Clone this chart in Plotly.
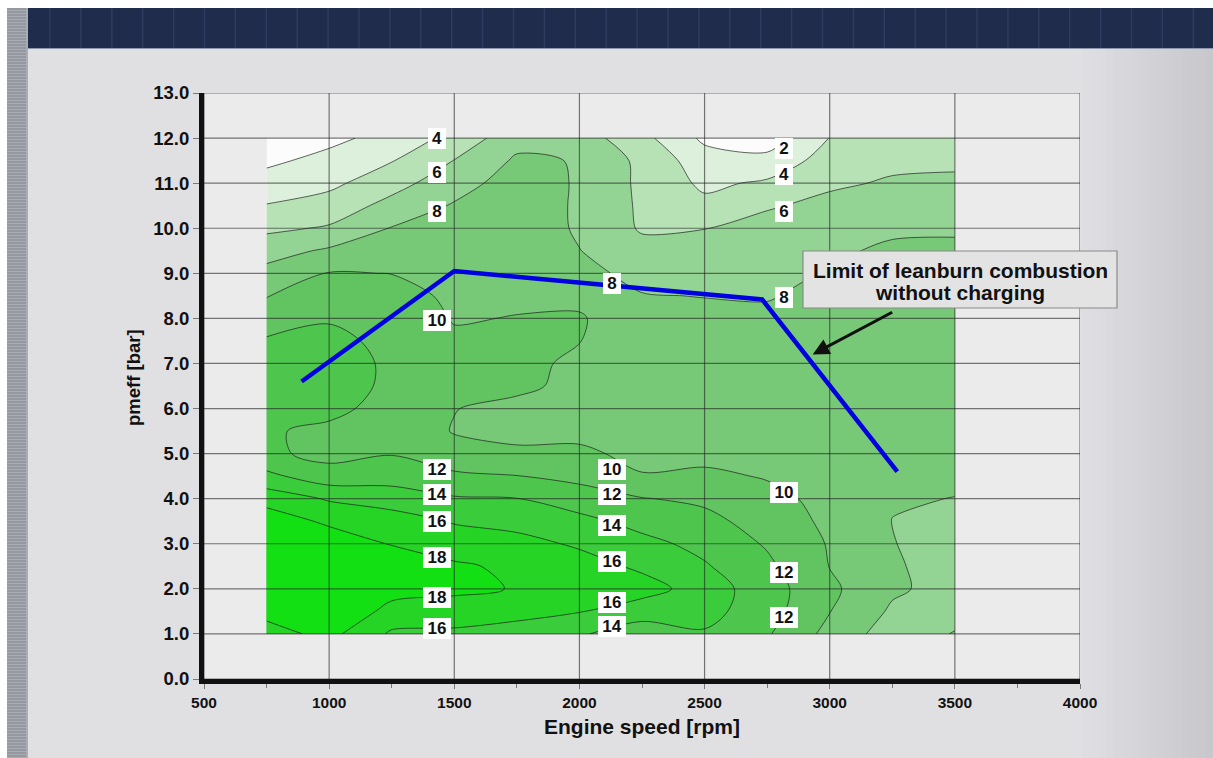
import numpy as np
import plotly.graph_objects as go

FONT = "Liberation Sans, Arial, sans-serif"

# ---- map grid --------------------------------------------------------------
speed_rpm = [750, 1000, 1250, 1500, 1750, 2000, 2250, 2500, 2750, 3000, 3250, 3500]
pmeff_bar = [1.0, 1.5, 2.0, 2.5, 3.0, 3.5, 4.0, 4.5, 5.0, 5.5, 6.0, 6.5,
             7.0, 7.5, 8.0, 8.5, 9.0, 9.5, 10.0, 10.5, 11.0, 11.5, 12.0]

# map values per engine-speed column, listed from 1.0 bar up to 12.0 bar
z_750 = [17.2, 18.6, 20.3, 20.8, 20.5, 19.2, 17.2, 14.5, 12.4, 12.2, 12.8, 13.0,
         12.8, 12.2, 11.1, 9.9, 8.6, 7.2, 5.6, 4.1, 2.8, 1.6, 0.8]
z_1000 = [18.6, 20.0, 21.0, 20.6, 19.3, 17.6, 15.8, 12.8, 11.4, 11.6, 12.5, 13.2,
          13.1, 12.6, 11.8, 11.0, 10.1, 8.3, 6.2, 4.9, 3.5, 2.6, 1.5]
z_1250 = [15.7, 17.3, 18.8, 19.0, 17.9, 17.0, 15.0, 13.2, 11.9, 11.2, 11.3, 11.5,
          11.6, 11.4, 11.0, 10.6, 9.97, 9.3, 8.1, 6.6, 5.3, 3.9, 2.7]
z_1500 = [15.6, 17.1, 18.4, 18.3, 17.0, 15.85, 14.2, 12.4, 10.6, 9.9, 10.05, 10.5,
          10.6, 10.25, 9.9, 9.7, 9.6, 9.4, 9.0, 8.2, 7.1, 6.05, 4.6]
z_1750 = [15.2, 16.6, 17.9, 17.6, 16.7, 15.3, 14.05, 12.05, 10.5, 9.2, 9.5, 10.4,
          10.7, 10.6, 10.05, 9.75, 9.6, 9.6, 9.5, 9.3, 9.0, 8.3, 7.3]
z_2000 = [14.2, 16.1, 17.2, 16.9, 15.7, 14.6, 12.9, 11.5, 10.5, 9.3, 9.0, 9.5,
          9.5, 10.05, 10.2, 9.5, 8.6, 8.05, 7.7, 7.7, 7.8, 7.9, 7.0]
z_2250 = [13.0, 14.8, 16.9, 15.6, 14.6, 13.3, 12.1, 10.15, 9.3, 9.3, 9.2, 9.2,
          9.1, 8.9, 8.6, 8.1, 7.4, 6.6, 5.8, 5.7, 5.6, 5.5, 4.6]
z_2500 = [13.8, 14.7, 15.0, 14.2, 13.4, 12.6, 11.6, 10.4, 9.4, 9.1, 9.0, 8.9,
          8.9, 8.8, 8.5, 7.95, 7.5, 6.9, 5.95, 4.5, 3.6, 2.9, 1.6]
z_2750 = [12.2, 12.8, 12.9, 12.4, 11.8, 11.1, 10.6, 9.85, 9.3, 9.1, 9.0, 8.9,
          8.8, 8.6, 8.3, 7.9, 7.6, 7.2, 6.7, 5.8, 4.3, 2.6, 1.0]
z_3000 = [9.4, 10.05, 10.4, 9.95, 9.85, 9.6, 9.4, 9.25, 9.1, 9.0, 8.9, 8.85,
          8.8, 8.7, 8.6, 8.4, 8.1, 7.7, 7.2, 6.5, 5.7, 4.9, 4.05]
z_3250 = [7.0, 7.72, 8.3, 8.2, 8.05, 7.98, 8.1, 8.2, 8.3, 8.4, 8.5, 8.5,
          8.6, 8.7, 8.8, 8.8, 8.7, 8.3, 7.7, 7.0, 6.2, 5.6, 4.8]
z_3500 = [8.1, 7.4, 7.3, 7.3, 7.4, 7.6, 7.98, 8.2, 8.3, 8.35, 8.4, 8.5,
          8.6, 8.65, 8.7, 8.7, 8.6, 8.3, 7.8, 7.1, 6.3, 5.7, 5.0]

level_start, level_end, level_step = 2, 18, 2

# inline contour labels: speed, pmeff, level
label_speed = [1432, 1432, 1432, 1432, 1432, 1432, 1432, 1432, 1432, 1432,
               2816, 2816, 2816, 2132, 2816,
               2132, 2132, 2132, 2132, 2132, 2132,
               2816, 2816, 2816]
label_pmeff = [11.98, 11.24, 10.38, 7.96, 4.64, 4.09, 3.49, 2.69, 1.80, 1.13,
               11.76, 11.20, 10.38, 8.78, 8.47,
               4.64, 4.09, 3.40, 2.60, 1.69, 1.16,
               4.13, 2.36, 1.36]
label_level = [4, 6, 8, 10, 12, 14, 16, 18, 18, 16,
               2, 4, 6, 8, 8,
               10, 12, 14, 16, 16, 14,
               10, 12, 12]

# leanburn limit line
limit_speed = [890, 1500, 2730, 3270]
limit_pmeff = [6.6, 9.05, 8.42, 4.6]

# axes
x_ticks = [500, 1000, 1500, 2000, 2500, 3000, 3500, 4000]
x_minor = [750, 1250, 1750, 2250, 2750, 3250, 3750]
y_ticks = list(range(0, 14))

band_colors = ["#fcfcfc", "#dcf0dc", "#b6e2b6", "#93d393", "#77c877",
               "#61c461", "#4ec64e", "#3bcc3b", "#26d426", "#12e012"]

# ---- figure ----------------------------------------------------------------
z = np.column_stack([z_750, z_1000, z_1250, z_1500, z_1750, z_2000,
                     z_2250, z_2500, z_2750, z_3000, z_3250, z_3500])

n = len(band_colors)
colorscale = [[i / (n - 1), c] for i, c in enumerate(band_colors)]

fig = go.Figure()
fig.add_trace(go.Contour(
    x=speed_rpm, y=pmeff_bar, z=z,
    autocontour=False,
    contours=dict(start=level_start, end=level_end, size=level_step,
                  coloring="fill", showlabels=False),
    colorscale=colorscale, showscale=False,
    line=dict(color="rgba(25,25,25,0.75)", width=0.9, smoothing=0.9),
    hoverinfo="skip",
))

# grid drawn over the filled map
gx, gy = [], []
for v in x_ticks:
    gx += [v, v, None]
    gy += [0, 13, None]
for v in y_ticks:
    gx += [500, 4000, None]
    gy += [v, v, None]
fig.add_trace(go.Scatter(x=gx, y=gy, mode="lines", cliponaxis=False,
                         line=dict(color="rgba(35,35,35,0.6)", width=1.2),
                         hoverinfo="skip", showlegend=False))

fig.add_trace(go.Scatter(x=limit_speed, y=limit_pmeff, mode="lines",
                         line=dict(color="#0000e0", width=4.5),
                         hoverinfo="skip", showlegend=False))

for sx, sy, lv in zip(label_speed, label_pmeff, label_level):
    w = 18 if lv < 10 else 28
    fig.add_annotation(x=sx, y=sy, text=f"<b>{lv}</b>", showarrow=False,
                       xanchor="center", yanchor="middle",
                       width=w, height=21, align="center", valign="middle",
                       bgcolor="white", borderwidth=0, borderpad=0,
                       font=dict(family=FONT, size=17, color="#111"))

# ---- page decoration (pixel helpers -> paper coordinates) ------------------
L, R, T, B = 204, 1080, 93, 679


def px(xp):
    return (xp - L) / (R - L)


def py(yp):
    return (B - yp) / (B - T)


shapes = []
# white top edge and left edge
shapes.append(dict(type="rect", xref="paper", yref="paper", x0=px(0), x1=px(1213),
                   y0=py(8), y1=py(0), fillcolor="white", line=dict(width=0), layer="below"))
shapes.append(dict(type="rect", xref="paper", yref="paper", x0=px(0), x1=px(7),
                   y0=py(758), y1=py(0), fillcolor="white", line=dict(width=0), layer="below"))
# right-hand shading
steps = 16
for i in range(steps):
    x0 = 1082 + i * (131 / steps)
    x1 = 1082 + (i + 1) * (131 / steps)
    t = (i + 1) / steps
    c = int(round(224 - 24 * t))
    shapes.append(dict(type="rect", xref="paper", yref="paper", x0=px(x0), x1=px(x1 + 0.5),
                       y0=py(758), y1=py(48), fillcolor=f"rgb({c},{c},{c + 4})",
                       line=dict(width=0), layer="below"))
# navy banner
shapes.append(dict(type="rect", xref="paper", yref="paper", x0=px(28), x1=px(1213),
                   y0=py(48), y1=py(8), fillcolor="#1f2c4b", line=dict(width=0), layer="below"))
xv = 50.0
while xv < 1213:
    shapes.append(dict(type="line", xref="paper", yref="paper", x0=px(xv), x1=px(xv),
                       y0=py(48), y1=py(8), line=dict(color="#2d3c60", width=1.5), layer="below"))
    xv += 30.9
shapes.append(dict(type="line", xref="paper", yref="paper", x0=px(28), x1=px(1213),
                   y0=py(48.5), y1=py(48.5), line=dict(color="#8e97ab", width=1), layer="below"))
# striped left band
shapes.append(dict(type="rect", xref="paper", yref="paper", x0=px(7), x1=px(28),
                   y0=py(758), y1=py(8), fillcolor="#a9acb3", line=dict(width=0), layer="below"))
yv = 9.0
while yv < 758:
    shapes.append(dict(type="line", xref="paper", yref="paper", x0=px(7), x1=px(26),
                       y0=py(yv), y1=py(yv), line=dict(color="#80848d", width=1), layer="below"))
    yv += 3.0

# annotation box
shapes.append(dict(type="rect", xref="paper", yref="paper", x0=px(803), x1=px(1117),
                   y0=py(308), y1=py(251), fillcolor="#e3e3e3",
                   line=dict(color="#8a8a8a", width=1.2), layer="above"))

fig.add_annotation(xref="paper", yref="paper", x=px(960), y=py(270),
                   xanchor="center", yanchor="middle",
                   text="<b>Limit of leanburn combustion</b>", showarrow=False,
                   font=dict(family=FONT, size=21, color="#111"))
fig.add_annotation(xref="paper", yref="paper", x=px(960), y=py(292),
                   xanchor="center", yanchor="middle",
                   text="<b>without charging</b>", showarrow=False,
                   font=dict(family=FONT, size=21, color="#111"))
fig.add_annotation(x=2932, y=7.2, text="", showarrow=True, ax=81, ay=-43,
                   arrowhead=2, arrowsize=1.1, arrowwidth=3, arrowcolor="#111",
                   standoff=0, startstandoff=0)

# axis titles
fig.add_annotation(xref="paper", yref="paper", x=px(133), y=py(378),
                   xanchor="center", yanchor="middle",
                   text="<b>pmeff [bar]</b>", textangle=-90, showarrow=False,
                   font=dict(family=FONT, size=18.5, color="#111"))
fig.add_annotation(xref="paper", yref="paper", x=px(642), y=py(726),
                   xanchor="center", yanchor="middle",
                   text="<b>Engine speed [rpm]</b>", showarrow=False,
                   font=dict(family=FONT, size=21, color="#111"))

fig.update_layout(
    width=1213, height=758, autosize=False,
    margin=dict(l=L, r=1213 - R, t=T, b=758 - B),
    paper_bgcolor="#e0e0e3", plot_bgcolor="#ebebeb",
    showlegend=False, shapes=shapes,
    font=dict(family=FONT, color="#111"),
)
fig.update_xaxes(range=[500, 4000], tickvals=x_ticks, showgrid=False, zeroline=False,
                 showline=True, linewidth=5, linecolor="#111",
                 ticks="outside", ticklen=5, tickwidth=1, tickcolor="#777",
                 tickfont=dict(family=FONT, size=15.5, color="#111", weight="bold"),
                 minor=dict(tickvals=x_minor, ticks="outside", ticklen=4,
                            tickcolor="#777", showgrid=False))
fig.update_yaxes(range=[0, 13], tickvals=y_ticks, tickformat=".1f", showgrid=False,
                 zeroline=False, showline=True, linewidth=5, linecolor="#111",
                 ticks="outside", ticklen=6, tickwidth=1, tickcolor="#777",
                 tickfont=dict(family=FONT, size=18.5, color="#111", weight="bold"))

fig.write_html("out.html", config={"displayModeBar": False})
